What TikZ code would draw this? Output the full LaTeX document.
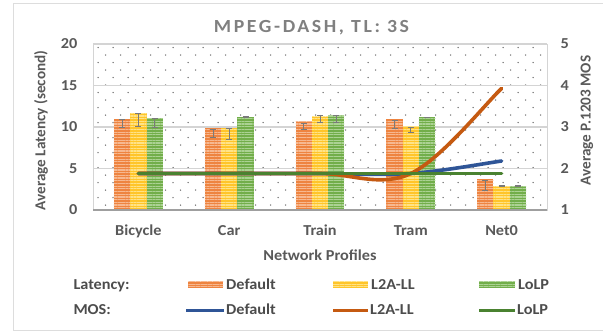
\documentclass[tikz,border=0pt]{standalone}
\usepackage{fontspec}
\setmainfont{Carlito}[FakeStretch=1.07]
\newfontfamily\rotfont{Carlito}
\usetikzlibrary{patterns.meta}
\definecolor{barO}{HTML}{EE8440}
\definecolor{barOs}{HTML}{F7B890}
\definecolor{barY}{HTML}{FFC52A}
\definecolor{barYs}{HTML}{FFE386}
\definecolor{barG}{HTML}{72AE4A}
\definecolor{barGs}{HTML}{ABD293}
\definecolor{lnB}{HTML}{2F5597}
\definecolor{lnO}{HTML}{C55A11}
\definecolor{lnG}{HTML}{4A8230}
\definecolor{txtc}{HTML}{595959}
\definecolor{gridc}{HTML}{D4D4D4}
\definecolor{dotc}{HTML}{6E6E6E}
\newcommand{\latbar}[6]{%
  \fill[#5] (#1,210) rectangle ({#1+16.3},{210-8.3*#2});
  \fill[pattern={Lines[angle=0,distance=2.7pt,line width=1.2pt]},pattern color=#6] (#1,210) rectangle ({#1+16.3},{210-8.3*#2});
  \draw[errbar] ({#1+8.15},{210-8.3*#3}) -- ({#1+8.15},{210-8.3*#4});
  \draw[errbar] ({#1+5.15},{210-8.3*#3}) -- ({#1+11.15},{210-8.3*#3});
  \draw[errbar] ({#1+5.15},{210-8.3*#4}) -- ({#1+11.15},{210-8.3*#4});
}
\newcommand{\latgroup}[4]{% center, then three value triples
  \latbar{#1-24.45}#2{barO}{barOs}
  \latbar{#1-8.15}#3{barY}{barYs}
  \latbar{#1+8.15}#4{barG}{barGs}
}
\begin{document}
\begin{tikzpicture}[x=1pt,y=-1pt,
  errbar/.style={draw=txtc!80,line width=0.8pt},
  gridl/.style={draw=gridc,line width=1.2pt},
  mos/.style={line width=3.6pt,line cap=round},
  lbl/.style={font=\fontsize{15.2}{17}\selectfont\bfseries,text=txtc,inner sep=0pt},
  rlbl/.style={font=\rotfont\fontsize{15.2}{17}\selectfont\bfseries,text=txtc,inner sep=0pt,rotate=90},
  leglbl/.style={font=\fontsize{15.2}{17}\selectfont\bfseries,text=txtc!85!black,inner sep=0pt},
]
\useasboundingbox (0,0) rectangle (603,332);
\fill[white] (0,0) rectangle (603,332);
\draw[gridc!80,line width=1pt] (13.5,3.5) rectangle (640,330);
% dotted plot area
\begin{scope}
\clip (93,44) rectangle (547,210);
\foreach \j in {0,...,22} {
  \pgfmathsetmacro\yy{47.5+7.5*\j}
  \pgfmathsetmacro\xo{98+mod(\j,2)*7.5}
  \foreach \i in {0,...,30} \fill[dotc] ({\xo+15*\i},\yy) circle[radius=0.75pt];
}
\end{scope}
\draw[gridc,line width=0.8pt] (93,44) rectangle (547,210);
\foreach \v in {5,10,15,20} \draw[gridl] (93,{210-8.3*\v}) -- (547,{210-8.3*\v});
% bars
\latgroup{138.4}{{10.96}{10.96}{9.96}}{{11.65}{11.65}{10.1}}{{11.05}{11.05}{10.0}}
\latgroup{229.2}{{9.88}{9.7}{8.8}}{{9.88}{9.84}{8.5}}{{11.17}{11.22}{11.12}}
\latgroup{320}{{10.64}{10.44}{9.7}}{{11.24}{11.45}{10.5}}{{11.45}{11.45}{10.5}}
\latgroup{410.8}{{10.96}{10.84}{9.84}}{{10.04}{9.9}{9.3}}{{11.17}{11.2}{11.14}}
\latgroup{501.6}{{3.7}{3.6}{2.4}}{{2.9}{2.93}{2.87}}{{2.9}{2.93}{2.87}}
\draw[gridc!75!black,line width=1.6pt] (93,210) -- (547,210);
% MOS lines
\coordinate (b1) at (138.4,173.5); \coordinate (b3) at (320,173.5);
\coordinate (b4) at (410.8,173.5); \coordinate (b5) at (501.6,161);
\coordinate (o5) at (501.6,88.4);
\draw[mos,lnB] (b1) -- (b3) .. controls (350.3,173.5) and (380.5,175.6) .. (b4) .. controls (441.1,171.4) and (486.5,163.1) .. (b5);
\draw[mos,lnO] (b1) -- (b3) .. controls (350.3,173.5) and (380.5,187.7) .. (b4) .. controls (441.1,159.3) and (486.5,102.6) .. (o5);
\draw[mos,lnG] (b1) -- (501.6,173.5);
% title
\node[font=\fontsize{18.5}{20}\selectfont\bfseries\addfontfeature{LetterSpace=14},text=black!50,inner sep=0pt,anchor=base] (title) at (311.5,32.7) {MPEG-DASH, TL: 3S};
% tick labels
\foreach \v/\n in {0/l0,5/l5,10/l10,15/l15,20/l20} \node[lbl,anchor=east] (\n) at (77.5,{210-8.3*\v}) {\v};
\foreach \v/\n in {1/r1,2/r2,3/r3,4/r4,5/r5} \node[lbl,anchor=west] (\n) at (560.5,{210-41.5*(\v-1)}) {\v};
\node[rlbl] (ylab) at (41,130.5) {Average Latency (second)};
\node[rlbl] (y2lab) at (587,120.5) {Average P.1203 MOS};
\foreach \x/\t/\n in {138.4/Bicycle/c1,229.2/Car/c2,320/Train/c3,410.8/Tram/c4,501.6/Net0/c5}
  \node[lbl,anchor=base] (\n) at (\x,235.7) {\t};
\node[lbl,anchor=base] (xlab) at (320,260) {Network Profiles};
% legend
\node[leglbl,anchor=base west] (latl) at (73.3,289) {Latency:};
\node[leglbl,anchor=base west] (mosl) at (73.3,314) {MOS:};
\foreach \xa/\xb/\cf/\cs/\t/\n in {188/223/barO/barOs/Default/ld,333/368/barY/barYs/L2A-LL/ly,479/515/barG/barGs/LoLP/lg} {
  \fill[\cf] (\xa,281.5) rectangle (\xb,287.5);
  \fill[pattern={Lines[angle=0,distance=2.4pt,line width=0.9pt]},pattern color=\cs] (\xa,281.5) rectangle (\xb,287.5);
  \node[leglbl,anchor=base west] (\n) at (\xb+3,289) {\t};
}
\foreach \xa/\xb/\cf/\t/\n in {186/224/lnB/Default/md,333/368/lnO/L2A-LL/my,479/515/lnG/LoLP/mg} {
  \coordinate (\n a) at (\xa,310); \coordinate (\n b) at (\xb,310);
  \draw[line width=3pt,\cf] (\n a) -- (\n b);
  \node[leglbl,anchor=base west] (\n) at (\xb+2,314) {\t};
}
\end{tikzpicture}
\end{document}
